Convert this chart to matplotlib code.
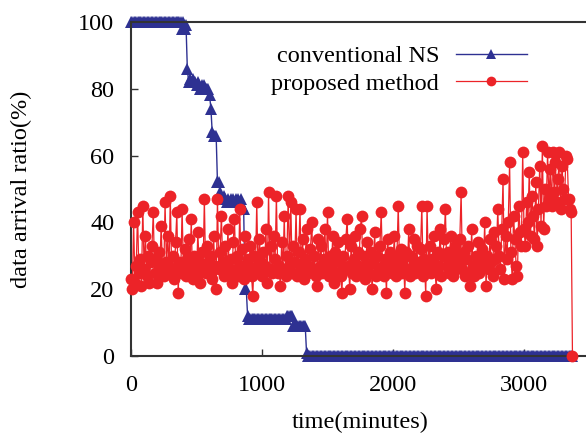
import matplotlib
matplotlib.use("Agg")
import matplotlib.pyplot as plt

# sampling times in minutes (every 10 min)
time_min = list(range(0, 3380, 10))

# data arrival ratio (%) of the conventional NS scheme
conventional_ns = (
    [100] * 39
    + [98, 100, 98, 99, 86, 82, 83, 82, 83, 82,
       82, 81, 82, 81, 80, 81, 80, 81, 80, 80,
       80, 78, 74, 67, 66, 66, 66, 52, 52, 49,
       48, 47, 48, 47, 46, 47, 46, 47, 46, 47,
       46, 47, 46, 47, 46, 47, 45, 44, 20, 20]
    + [12] + [11] * 29 + [12] * 5
    + [9] * 10
    + [1]
    + [0] * 203
)

# data arrival ratio (%) of the proposed method
proposed_method = [
    23, 20, 40, 22, 27, 43, 25, 29, 21, 45,
    26, 36, 24, 30, 22, 28, 33, 43, 25, 29,
    22, 31, 26, 39, 27, 24, 46, 28, 36, 25,
    48, 26, 30, 23, 34, 43, 19, 28, 25, 44,
    27, 32, 24, 29, 35, 26, 41, 23, 30, 27,
    24, 37, 28, 22, 31, 26, 47, 25, 33, 28,
    25, 30, 23, 36, 27, 20, 47, 26, 31, 42,
    28, 24, 33, 27, 38, 25, 29, 22, 34, 41,
    26, 30, 24, 44, 27, 32, 23, 36, 25, 29,
    27, 33, 24, 18, 30, 26, 46, 25, 35, 28,
    24, 31, 27, 38, 22, 49, 26, 33, 25, 36,
    29, 48, 25, 27, 21, 34, 26, 42, 24, 30,
    48, 27, 46, 25, 33, 28, 44, 24, 31, 44,
    26, 35, 23, 29, 38, 25, 27, 32, 40, 26,
    30, 24, 21, 35, 27, 33, 25, 29, 38, 26,
    43, 24, 30, 27, 36, 22, 31, 25, 34, 28,
    24, 19, 30, 26, 35, 41, 27, 20, 33, 25,
    29, 36, 24, 31, 27, 38, 42, 26, 30, 23,
    34, 27, 25, 31, 20, 28, 37, 24, 30, 26,
    33, 43, 27, 24, 29, 19, 35, 26, 31, 25,
    28, 36, 24, 30, 45, 27, 32, 25, 29, 19,
    31, 26, 38, 24, 30, 27, 35, 25, 33, 28,
    26, 32, 45, 24, 29, 18, 45, 27, 33, 25,
    29, 36, 26, 20, 31, 27, 38, 24, 30, 35,
    44, 27, 31, 25, 36, 28, 24, 33, 26, 30,
    27, 35, 49, 26, 31, 24, 29, 33, 25, 21,
    38, 27, 24, 30, 26, 34, 25, 29, 32, 27,
    40, 21, 30, 26, 35, 28, 24, 37, 29, 33,
    44, 30, 26, 38, 53, 23, 36, 29, 40, 58,
    31, 23, 42, 35, 27, 24, 45, 37, 33, 61,
    38, 33, 46, 40, 55, 36, 48, 42, 35, 52,
    33, 44, 57, 39, 63, 38, 50, 45, 61, 47,
    56, 45, 61, 49, 58, 46, 53, 61, 44, 57,
    50, 47, 60, 59, 47, 44, 43, 0,
]

x_ticks = [0, 1000, 2000, 3000]
y_ticks = [0, 20, 40, 60, 80, 100]

plt.rcParams["font.family"] = ["Liberation Serif", "DejaVu Serif"]

W, H = 586, 434
fig = plt.figure(figsize=(W / 100, H / 100), dpi=100)
ax = fig.add_axes([131 / W, 1 - 356 / H, 458.5 / W, 334 / H])

blue = "#2e3192"
red = "#ec2328"

ax.plot(time_min, conventional_ns, color=blue, lw=1.0, marker="^",
        markersize=8, markeredgewidth=0, label="conventional NS",
        zorder=2, clip_on=False)
ax.plot(time_min, proposed_method, color=red, lw=0.9, marker="o",
        markersize=8.5, markeredgewidth=0, label="proposed method",
        zorder=3, clip_on=False)

ax.set_xlim(0, 3500)
ax.set_ylim(0, 100)
ax.set_xticks(x_ticks)
ax.set_yticks(y_ticks)
ax.tick_params(direction="in", length=5, width=1, labelsize=17.5, color="#333333")
ax.tick_params(axis="y", pad=12)
ax.tick_params(axis="x", pad=14)

for s in ax.spines.values():
    s.set_linewidth(1.5)
    s.set_color("#333333")

ax.set_xlabel("time(minutes)", fontsize=17.5, labelpad=11)
ax.set_ylabel("data arrival ratio(%)", fontsize=17.5, labelpad=33)

leg = ax.legend(loc="upper right", bbox_to_anchor=(0.884, 0.959),
                frameon=False, markerfirst=False, fontsize=17.5,
                handlelength=2.9, handletextpad=0.7, labelspacing=0.22,
                borderaxespad=0.0)
# legend keys use smaller markers than the plotted series
for h, ms in zip(leg.legend_handles, (6.5, 7)):
    h.set_markersize(ms)

fig.savefig("out.png", dpi=100)
